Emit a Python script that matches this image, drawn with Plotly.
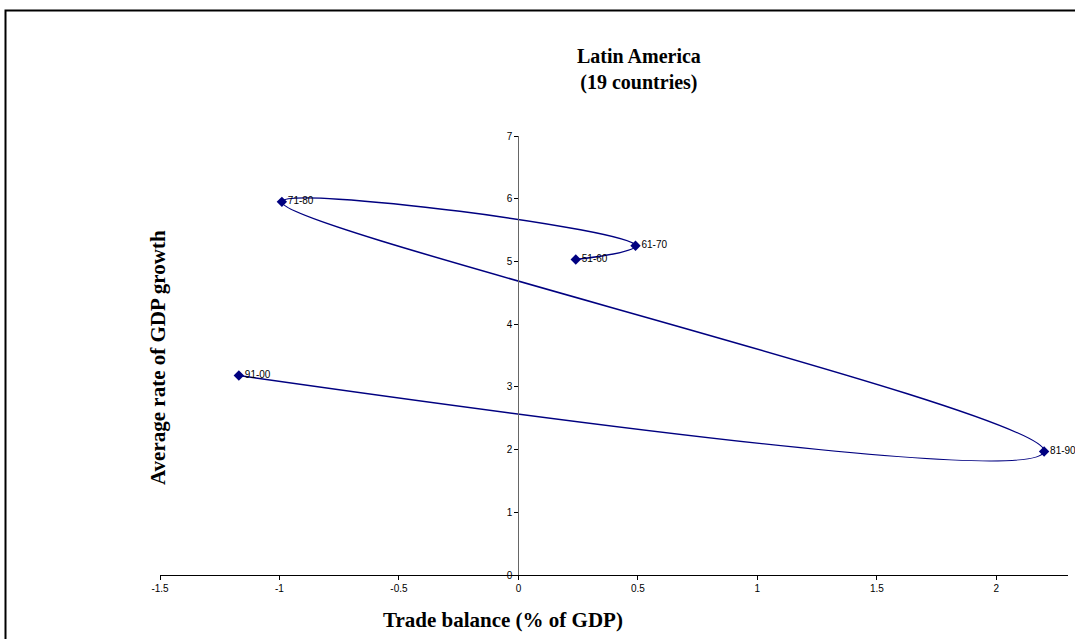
import plotly.graph_objects as go

# Data
periods = ["51-60", "61-70", "71-80", "81-90", "91-00"]
trade_balance = [0.24, 0.49, -0.99, 2.20, -1.17]
gdp_growth = [5.03, 5.25, 5.95, 1.97, 3.18]

x_ticks = [-1.5, -1, -0.5, 0, 0.5, 1, 1.5, 2]
x_tick_labels = ["-1.5", "-1", "-0.5", "0", "0.5", "1", "1.5", "2"]
y_ticks = [0, 1, 2, 3, 4, 5, 6, 7]

x_range = [-1.5, 2.3]
y_range = [0, 7]

W, H = 1075, 639
L, R, T, B = 160, 7, 136, 64
pw, ph = W - L - R, H - T - B

def px_x(p):
    return (p - L) / pw

def px_y(p):
    return (H - B - p) / ph

navy = "#000080"

fig = go.Figure()
fig.add_trace(go.Scatter(
    x=trade_balance, y=gdp_growth,
    mode="lines+markers+text",
    text=periods,
    textposition="middle right",
    textfont=dict(family="Liberation Sans, Arial", size=10, color="#000000"),
    line=dict(color=navy, width=1.5, shape="spline", smoothing=1.3),
    marker=dict(symbol="diamond", size=8, color=navy),
    cliponaxis=False,
    showlegend=False,
))

fig.update_layout(
    width=W, height=H,
    margin=dict(l=L, r=R, t=T, b=B),
    paper_bgcolor="white", plot_bgcolor="white",
    xaxis=dict(
        range=x_range, domain=[0, 1],
        tickvals=x_ticks, ticktext=x_tick_labels,
        showgrid=False, zeroline=False,
        showline=True, linecolor="#000000", linewidth=1,
        ticks="outside", ticklen=4, tickcolor="#000000",
        tickfont=dict(family="Liberation Sans, Arial", size=10, color="#000000"),
        anchor="y",
    ),
    yaxis=dict(
        range=y_range,
        tickvals=y_ticks,
        showgrid=False, zeroline=False,
        showline=True, linecolor="#666666", linewidth=1,
        ticks="outside", ticklen=4, tickcolor="#000000",
        tickfont=dict(family="Liberation Sans, Arial", size=10, color="#000000"),
        anchor="free",
        position=(0 - x_range[0]) / (x_range[1] - x_range[0]),
    ),
    annotations=[
        dict(text="<b>Latin America<br>(19 countries)</b>",
             xref="paper", yref="paper", x=px_x(639), y=px_y(70),
             xanchor="center", yanchor="middle", showarrow=False,
             font=dict(family="Liberation Serif, Times New Roman", size=20, color="#000000")),
        dict(text="<b>Trade balance (% of GDP)</b>",
             xref="paper", yref="paper", x=px_x(503), y=px_y(620),
             xanchor="center", yanchor="middle", showarrow=False,
             font=dict(family="Liberation Serif, Times New Roman", size=21, color="#000000")),
        dict(text="<b>Average rate of GDP growth</b>",
             xref="paper", yref="paper", x=px_x(158), y=px_y(358),
             xanchor="center", yanchor="middle", showarrow=False, textangle=-90,
             font=dict(family="Liberation Serif, Times New Roman", size=21, color="#000000")),
    ],
    shapes=[
        dict(type="rect", xref="paper", yref="paper",
             x0=px_x(5.5), y0=px_y(H + 40), x1=px_x(W + 20), y1=px_y(10.5),
             line=dict(color="#000000", width=2), layer="above"),
    ],
)

fig.write_html(
    "out.html",
    config={"displayModeBar": False},
    post_script="document.body.style.margin='0';document.body.style.overflow='hidden';",
)
